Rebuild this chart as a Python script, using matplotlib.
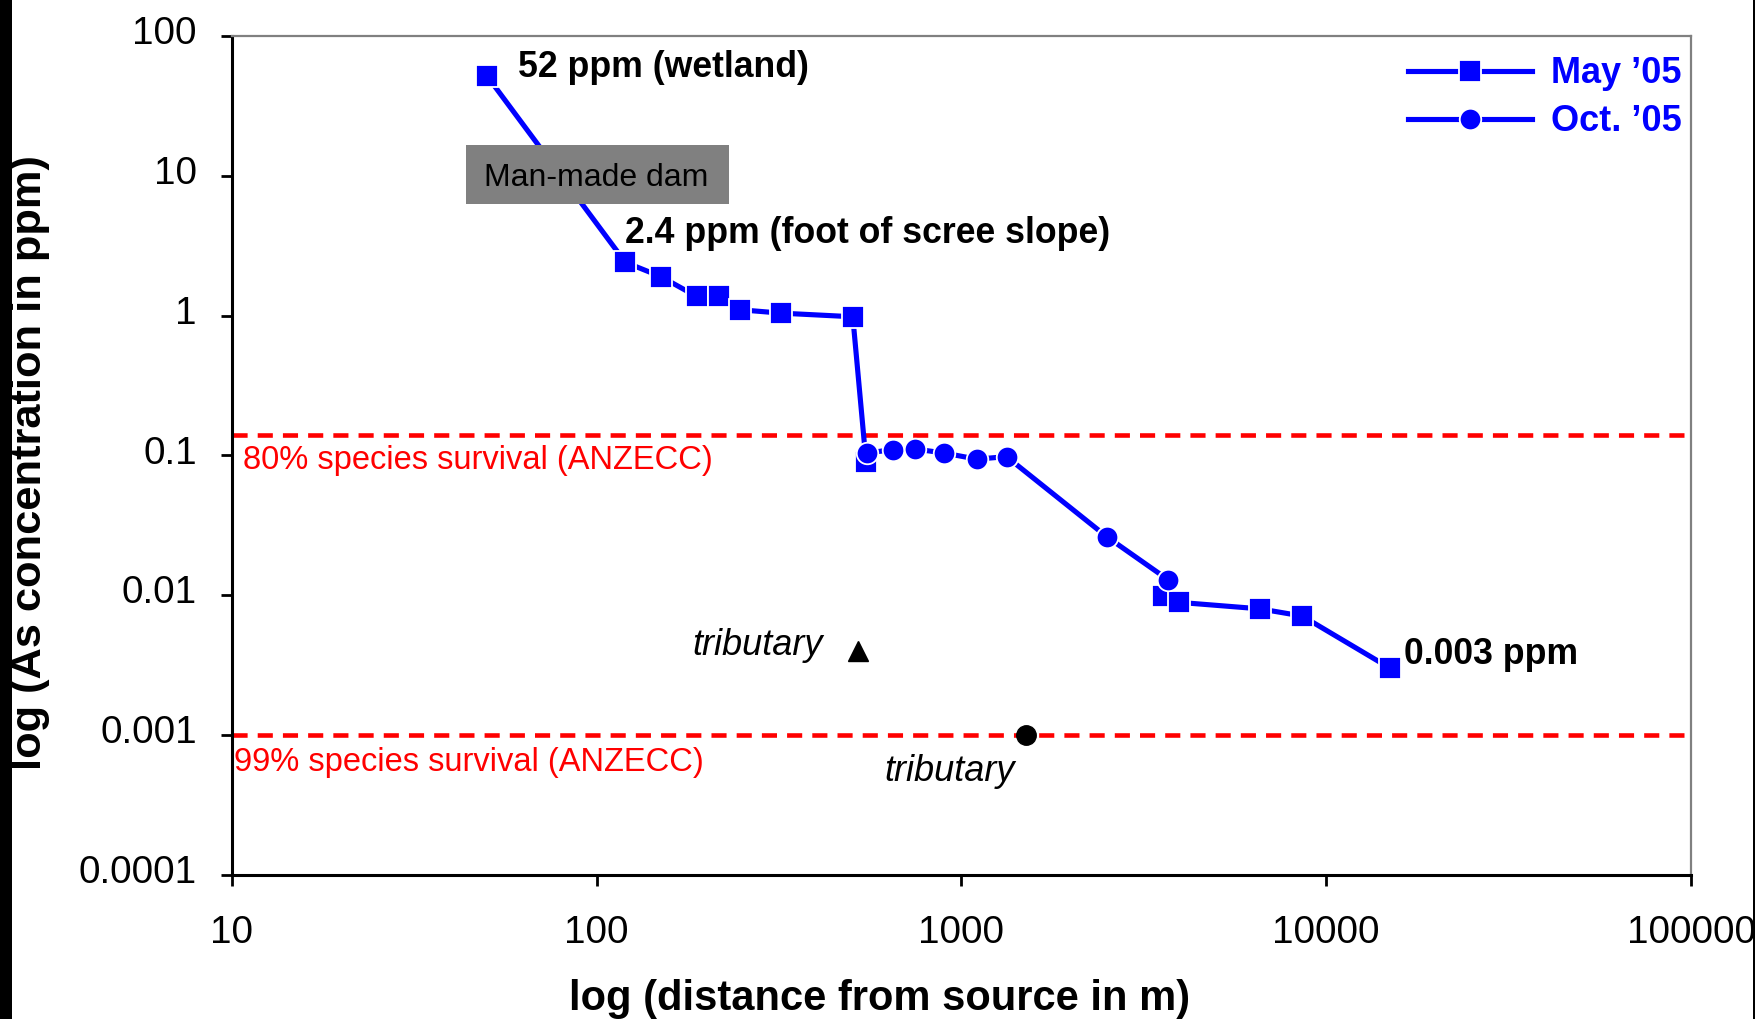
import numpy as np
import matplotlib
matplotlib.use("Agg")
import matplotlib.pyplot as plt
from matplotlib.patches import Rectangle
from matplotlib.transforms import ScaledTranslation

plt.rcParams['font.family'] = ['Liberation Sans', 'DejaVu Sans']

# ---- data ----
may_dist = [50, 120, 150, 188, 217, 247, 321, 504, 548, np.nan, 3580, 3945, 6580, 8600, 15000]
may_conc = [52, 2.4, 1.9, 1.37, 1.37, 1.10, 1.04, 0.98, 0.09, np.nan, 0.0098, 0.0089, 0.0080, 0.0071, 0.003]
oct_dist = [550, 650, 748, 897, 1102, 1330, 2500, 3690]
oct_conc = [0.104, 0.110, 0.111, 0.104, 0.094, 0.098, 0.0263, 0.0129]
trib_may = (520, 0.004)
trib_oct = (1500, 0.001)
anzecc_80 = 0.14
anzecc_99 = 0.001
x_ticks = [10, 100, 1000, 10000, 100000]
x_ticklabels = ['10', '100', '1000', '10000', '100000']
y_ticks = [0.0001, 0.001, 0.01, 0.1, 1, 10, 100]
y_ticklabels = ['0.0001', '0.001', '0.01', '0.1', '1', '10', '100']

BLUE = '#0000FF'
RED = '#FF0000'

fig = plt.figure(figsize=(17.55, 10.19), dpi=100)
ax = fig.add_axes([231.7 / 1755, 1 - 875 / 1019, 1459.3 / 1755, 839.2 / 1019])
ax.set_xscale('log')
ax.set_yscale('log')
ax.set_xlim(10, 100000)
ax.set_ylim(0.0001, 100)

# threshold lines
for thr in (anzecc_80, anzecc_99):
    ax.axhline(thr, xmin=0.0, xmax=0.995, color=RED, lw=3.3, dashes=(3.3, 2.2), zorder=2)

# series
ax.plot(may_dist, may_conc, color=BLUE, lw=3.7, marker='s', ms=15.5,
        mfc=BLUE, mec='white', mew=1.3, zorder=3, label="May \u201905")
ax.plot(oct_dist, oct_conc, color=BLUE, lw=3.7, marker='o', ms=15.5,
        mfc=BLUE, mec='white', mew=1.3, zorder=4, label="Oct. \u201905")

# tributaries
ax.plot([trib_may[0]], [trib_may[1]], marker='^', ms=15, color='black', ls='none', zorder=5)
ax.plot([trib_oct[0]], [trib_oct[1]], marker='o', ms=14, color='black', ls='none', zorder=5)

# ticks
ax.set_xticks(x_ticks)
ax.set_xticklabels(x_ticklabels)
ax.set_yticks(y_ticks)
ax.set_yticklabels(y_ticklabels)
ax.minorticks_off()
ax.tick_params(axis='both', direction='out', length=8, width=2.0, color='black',
               labelsize=27.8, labelcolor='black')
ax.tick_params(axis='x', pad=21)
ax.tick_params(axis='y', pad=17)
shift_up = ScaledTranslation(0, 4.2 / 72, fig.dpi_scale_trans)
for lab in ax.get_yticklabels():
    lab.set_transform(lab.get_transform() + shift_up)

for s in ('left', 'bottom'):
    ax.spines[s].set_color('black')
    ax.spines[s].set_linewidth(2.2)
for s in ('top', 'right'):
    ax.spines[s].set_color('#808080')
    ax.spines[s].set_linewidth(1.6)

# axis labels
ax.set_xlabel('log (distance from source in m)', fontsize=30, fontweight='bold')
ax.xaxis.set_label_coords(0.444, -0.124)
ax.set_ylabel('log (As concentration in ppm)', fontsize=31.2, fontweight='bold')
ax.yaxis.set_label_coords(-0.1245, 0.492)

# annotations
bold = dict(fontsize=25.7, fontweight='bold', color='black', va='center')
ax.annotate('52 ppm (wetland)', xy=(may_dist[0], may_conc[0]), xytext=(22.6, 5.8),
            textcoords='offset points', ha='left', **bold)
ax.annotate('2.4 ppm (foot of scree slope)', xy=(may_dist[1], may_conc[1]), xytext=(-0.5, 20.5),
            textcoords='offset points', ha='left', **bold)
ax.annotate('0.003 ppm', xy=(may_dist[-1], may_conc[-1]), xytext=(9.8, 10),
            textcoords='offset points', ha='left', **bold)

ax.annotate('tributary', xy=trib_may, xytext=(-25, 4), textcoords='offset points',
            ha='right', va='center', fontsize=26, fontstyle='italic', color='black')
ax.annotate('tributary', xy=trib_oct, xytext=(-8, -26), textcoords='offset points',
            ha='right', va='center', fontsize=26, fontstyle='italic', color='black')

ax.annotate('80% species survival (ANZECC)', xy=(0, anzecc_80), xycoords=('axes fraction', 'data'),
            xytext=(8, -18.5), textcoords='offset points', ha='left', va='center',
            fontsize=23.5, color=RED)
ax.annotate('99% species survival (ANZECC)', xy=(0, anzecc_99), xycoords=('axes fraction', 'data'),
            xytext=(1.6, -20), textcoords='offset points', ha='left', va='center',
            fontsize=23.5, color=RED)

# man-made dam box
ax.add_patch(Rectangle((0.1603, 0.7999), 0.1803, 0.0694, transform=ax.transAxes,
                       facecolor='#808080', edgecolor='none', zorder=6))
ax.text(0.2497, 0.8306, 'Man-made dam', transform=ax.transAxes, ha='center', va='center',
        fontsize=23, color='black', zorder=7)

# legend
leg = ax.legend(loc='upper right', bbox_to_anchor=(1.0023, 0.9907), frameon=False,
                handlelength=3.42, handletextpad=0.53, labelspacing=0.36,
                borderaxespad=0.0, borderpad=0.35,
                prop={'weight': 'bold', 'size': 26})
for t in leg.get_texts():
    t.set_color(BLUE)

# black edge strips
fig.add_artist(Rectangle((0, 0), 12 / 1755, 1, transform=fig.transFigure,
                         facecolor='black', edgecolor='none', zorder=20))
fig.add_artist(Rectangle((1752.5 / 1755, 0), 2.5 / 1755, 1, transform=fig.transFigure,
                         facecolor='black', edgecolor='none', zorder=20))

fig.savefig('out.png', dpi=100)
